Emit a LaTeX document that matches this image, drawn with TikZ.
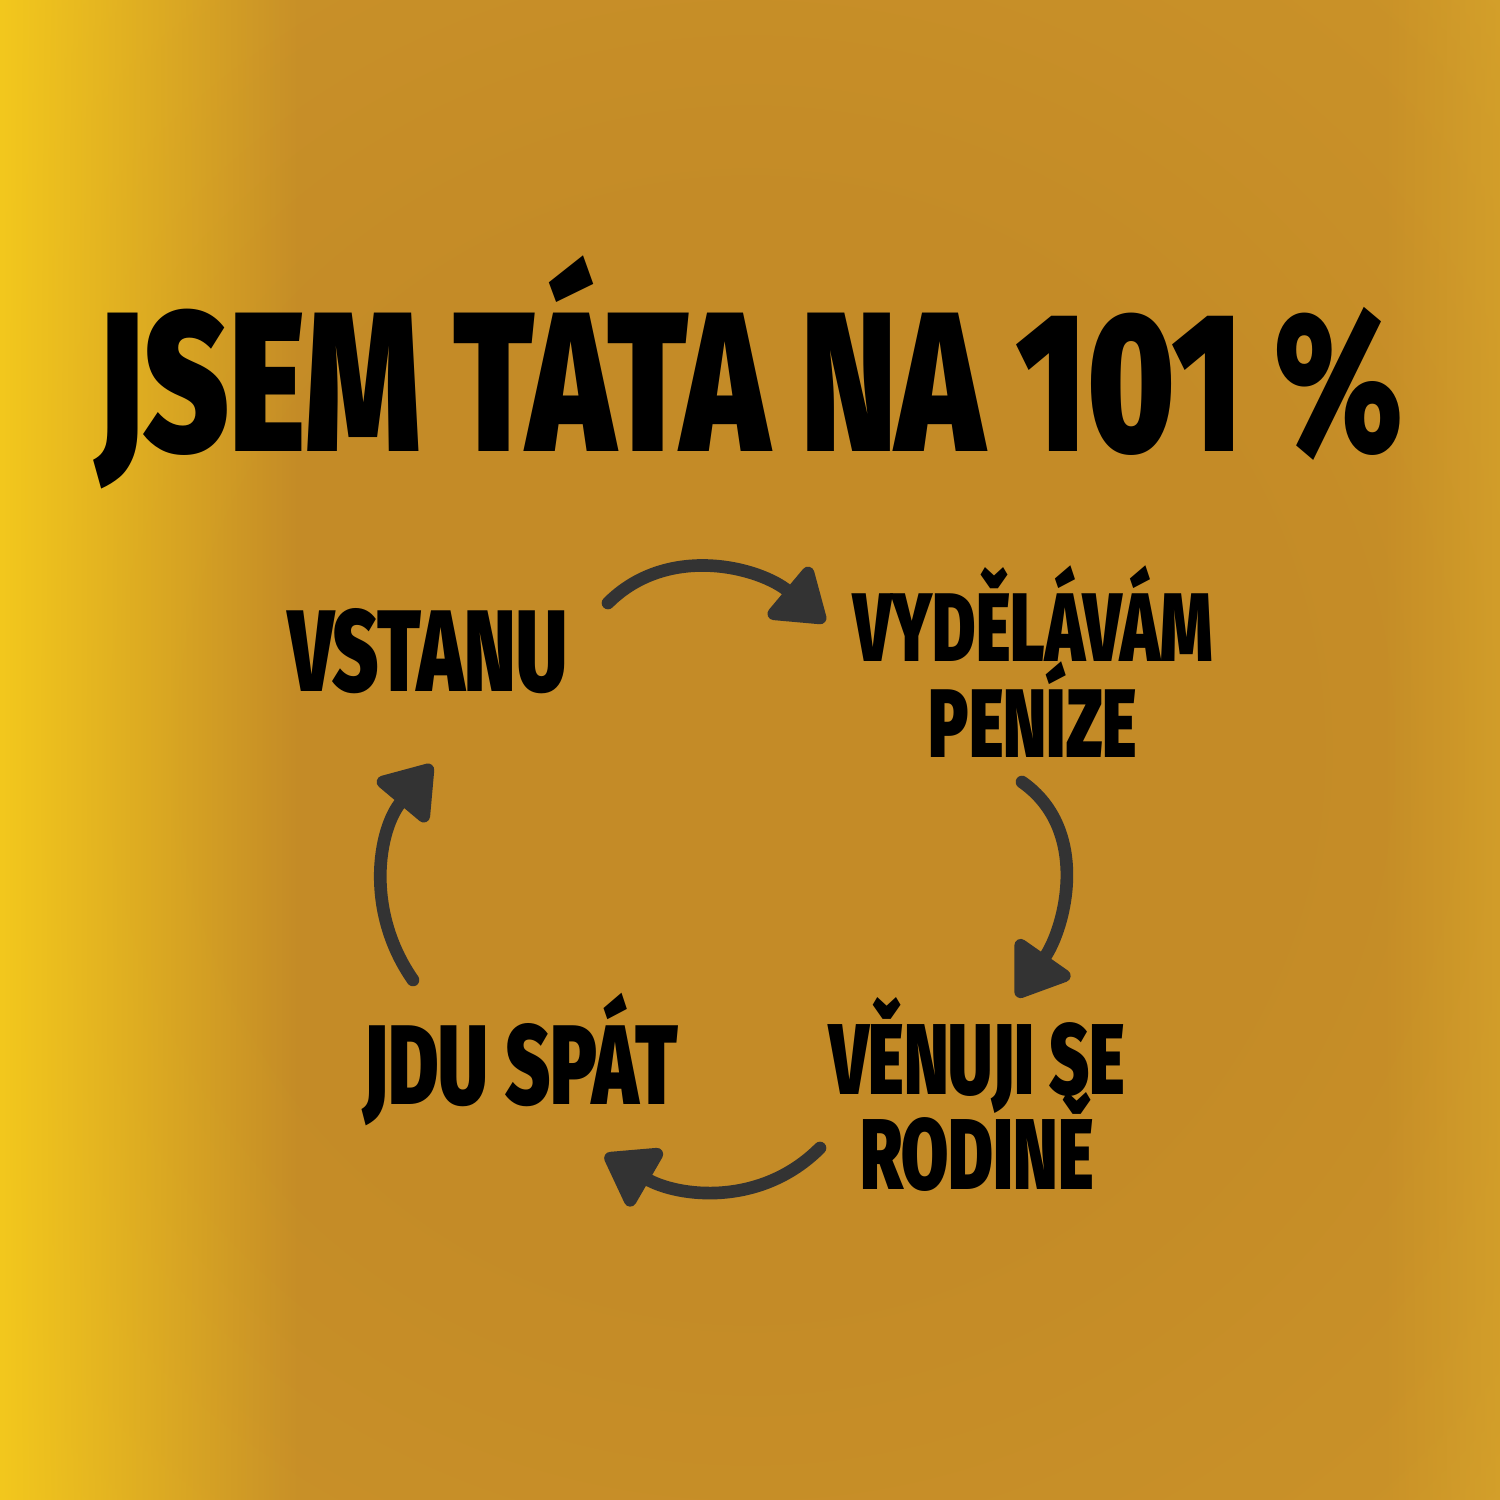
\documentclass[tikz,border=0pt]{standalone}
\usepackage{fontspec}
\newfontfamily\signfont{Fira Sans Black}[FakeStretch=0.68]
\newfontfamily\headfont{Fira Sans Black}[FakeStretch=0.735]
\usetikzlibrary{arrows.meta,fadings}
\definecolor{sheetmid}{HTML}{C48B27}
\definecolor{sheetring}{HTML}{C99128}
\definecolor{sheetedge}{HTML}{D8A52B}
\definecolor{sheetcorner}{HTML}{E2B32A}
\definecolor{sheetleft}{HTML}{F3C81D}
\definecolor{sheetright}{HTML}{D9A72B}
\definecolor{cyclegray}{HTML}{333333}
\pgfdeclareradialshading{sheet}{\pgfpoint{0bp}{0bp}}{color(0bp)=(sheetmid); color(18bp)=(sheetmid); color(32bp)=(sheetring); color(50bp)=(sheetedge); color(71bp)=(sheetcorner)}
\tikzset{phase/.style={anchor=base, inner sep=0pt, text=black, align=center},
  cycle arrow/.style={cyclegray, line width=3.6pt, line cap=round,
    -{Triangle[length=5.6mm,width=7.4mm,round]}}}
\newcommand\phasefont[2]{\signfont\fontsize{#1}{#2}\selectfont\lineskiplimit=-30pt}

\begin{document}
\begin{tikzpicture}
  \useasboundingbox (0,0) rectangle (15,15);
  \shade[shading=sheet] (0,0) rectangle (15,15);
  \fill[sheetleft, path fading=east] (0,0) rectangle (3,15);
  \fill[sheetright, path fading=west, opacity=0.6] (13.8,0) rectangle (15,15);
  % labels
  \node[phase, font=\headfont\fontsize{56.6}{60}\selectfont] (title) at (7.5,10.48) {JSEM TÁTA NA 101 \%};
  \node[phase, font=\phasefont{33}{33}] (vstanu) at (4.275,8.08) {VSTANU};
  \node[phase, font=\phasefont{27.7}{27.5}] (penize) at (10.33,7.42) {VYDĚLÁVÁM\\PENÍZE};
  \node[phase, font=\phasefont{28.6}{27.3}] (rodina) at (9.77,3.10) {VĚNUJI SE\\RODINĚ};
  \node[phase, font=\phasefont{32.2}{33}] (spat) at (5.205,3.95) {JDU SPÁT};
  % cycle
  \draw[cycle arrow] ([shift={(1.805,0.89)}]vstanu.base) to[out=45,in=140] ([shift={(-2.08,1.36)}]penize.base);
  \draw[cycle arrow] ([shift={(-0.11,-0.24)}]penize.base) to[out=-35,in=55] ([shift={(0.40,1.93)}]rodina.base);
  \draw[cycle arrow] ([shift={(-1.57,0.42)}]rodina.base) to[out=-135,in=-30] ([shift={(0.845,-0.50)}]spat.base);
  \draw[cycle arrow] ([shift={(-1.075,1.25)}]spat.base) to[out=125,in=-130] ([shift={(0.045,-0.73)}]vstanu.base);
\end{tikzpicture}
\end{document}
